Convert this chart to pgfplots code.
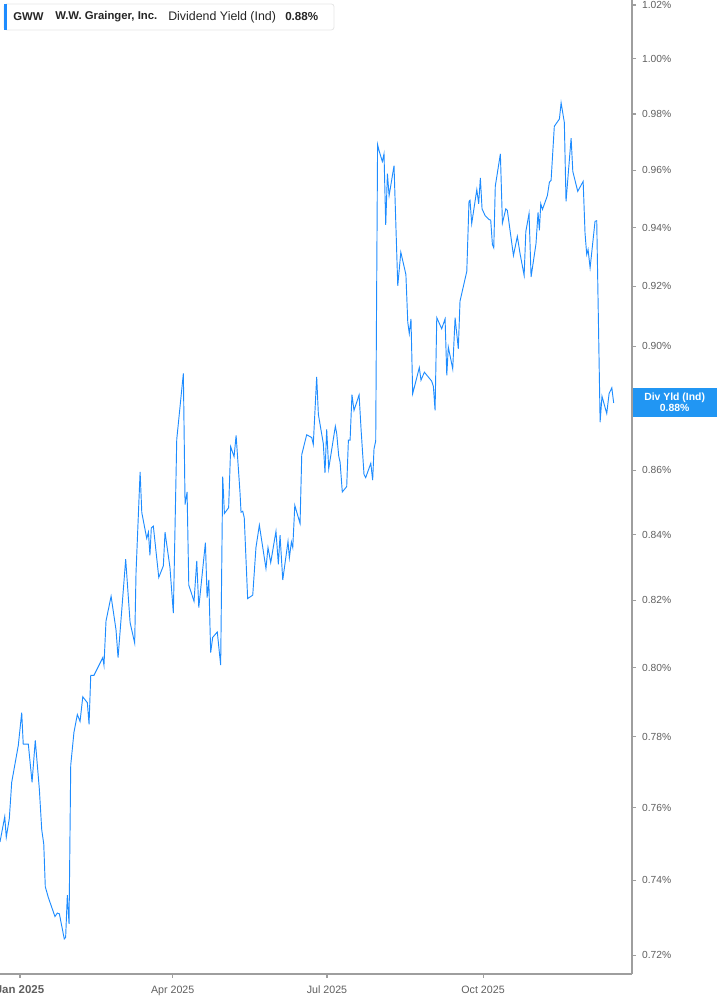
\documentclass[border=0pt]{standalone}
\usepackage{pgfplots}
\pgfplotsset{compat=1.18}
\usepackage{fontspec}
\setmainfont{Liberation Sans}

\definecolor{lineblue}{HTML}{1E8CFF}
\definecolor{badgeblue}{HTML}{2196F3}
\definecolor{axisgray}{HTML}{9E9E9E}
\definecolor{labelgray}{HTML}{5F5F5F}
\definecolor{boxgray}{HTML}{E6E6E6}

\begin{document}
\begin{tikzpicture}
\begin{axis}[
  scale only axis,
  width=474pt, height=730.5pt,
  at={(0,0)}, anchor=south west,
  xmin=-11.8, xmax=360.8,
  ymode=log, ymin=0.7150, ymax=1.0219,
  axis x line*=bottom, axis y line*=right,
  axis line style={axisgray, line width=1.1pt},
  tick style={axisgray, line width=0.8pt},
  tick align=outside,
  major tick length=3pt,
  xtick={0,90,181,273},
  xticklabels={\textbf{\fontsize{8.6}{9}\selectfont Jan 2025},Apr 2025,Jul 2025,Oct 2025},
  xticklabel style={font=\fontsize{8}{9}\selectfont, text=labelgray, yshift=-2.5pt},
  ytick={0.72,0.74,0.76,0.78,0.80,0.82,0.84,0.86,0.88,0.90,0.92,0.94,0.96,0.98,1.00,1.02},
  yticklabels={0.72\%,0.74\%,0.76\%,0.78\%,0.80\%,0.82\%,0.84\%,0.86\%,0.88\%,0.90\%,0.92\%,0.94\%,0.96\%,0.98\%,1.00\%,1.02\%},
  yticklabel style={font=\fontsize{7.7}{9}\selectfont, text=labelgray, xshift=1pt},
  minor tick num=0,
  log basis y=10,
  /pgf/number format/assume math mode=true,
  clip=false,
]
\addplot[lineblue, line width=0.7pt] coordinates {
(-11.8,0.7506) (-9.0,0.7575) (-8.1,0.7518) (-6.3,0.7570) (-4.9,0.7671) (-1.0,0.7776)
(1.0,0.7870) (1.9,0.7779) (4.9,0.7779) (7.1,0.7672) (9.0,0.7790) (11.4,0.7652)
(12.8,0.7540) (14.0,0.7499) (14.9,0.7383) (16.7,0.7354) (20.6,0.7303) (22.0,0.7312)
(23.2,0.7310) (26.1,0.7243) (26.9,0.7247) (27.9,0.7360) (28.9,0.7283) (29.9,0.7719)
(31.8,0.7814) (33.8,0.7865) (35.4,0.7845) (37.0,0.7916) (39.7,0.7899) (40.7,0.7836)
(41.7,0.7978) (43.6,0.7978) (48.8,0.8029) (49.5,0.8007) (50.7,0.8138) (53.7,0.8212)
(56.6,0.8111) (57.8,0.8029) (60.1,0.8178) (62.3,0.8324) (64.9,0.8133) (67.6,0.8072)
(68.4,0.8284) (70.8,0.8595) (71.8,0.8468) (74.7,0.8388) (75.7,0.8407) (76.6,0.8336)
(77.4,0.8420) (78.6,0.8426) (81.8,0.8269) (84.5,0.8304) (85.5,0.8407) (88.4,0.8299)
(90.4,0.8161) (92.4,0.8698) (96.3,0.8911) (97.3,0.8493) (98.5,0.8532) (99.5,0.8245)
(102.6,0.8197) (104.2,0.8319) (105.4,0.8178) (109.3,0.8375) (110.3,0.8208) (111.3,0.8261)
(112.4,0.8044) (113.6,0.8089) (116.3,0.8105) (118.3,0.8007) (119.5,0.8580) (120.5,0.8465)
(123.0,0.8483) (124.2,0.8675) (126.2,0.8643) (127.4,0.8711) (129.7,0.8530) (130.3,0.8469)
(131.3,0.8472) (132.2,0.8452) (134.2,0.8205) (137.2,0.8215) (139.1,0.8360) (141.1,0.8429)
(145.0,0.8296) (146.2,0.8360) (147.8,0.8314) (150.9,0.8410) (152.3,0.8309) (153.3,0.8398)
(154.9,0.8261) (158.0,0.8379) (158.8,0.8329) (160.0,0.8377) (160.8,0.8360) (162.0,0.8490)
(165.1,0.8434) (166.1,0.8650) (169.0,0.8713) (172.0,0.8704) (172.9,0.8682) (174.9,0.8900)
(175.9,0.8778) (178.8,0.8685) (179.8,0.8592) (180.8,0.8730) (182.0,0.8605) (185.9,0.8740)
(186.7,0.8717) (187.9,0.8645) (188.7,0.8626) (190.0,0.8532) (192.6,0.8549) (193.6,0.8696)
(194.6,0.8696) (195.7,0.8842) (196.9,0.8791) (199.9,0.8841) (201.1,0.8728) (202.8,0.8587)
(203.8,0.8577) (206.8,0.8622) (207.9,0.8569) (208.7,0.8668) (209.7,0.8693) (210.8,0.9691)
(211.8,0.9667) (213.6,0.9631) (214.6,0.9658) (215.6,0.9410) (216.6,0.9588) (217.6,0.9511)
(220.5,0.9616) (222.7,0.9202) (224.5,0.9316) (227.5,0.9240) (228.6,0.9080) (229.5,0.9042)
(230.5,0.9091) (231.5,0.8845) (235.4,0.8930) (236.4,0.8889) (238.4,0.8915) (242.7,0.8886)
(243.7,0.8869) (244.7,0.8791) (245.7,0.9095) (248.6,0.9058) (250.6,0.9091) (251.6,0.8905)
(252.5,0.8998) (255.1,0.8926) (256.5,0.9095) (258.4,0.8992) (259.4,0.9150) (263.4,0.9251)
(264.7,0.9491) (265.3,0.9495) (266.3,0.9414) (269.3,0.9532) (270.4,0.9483) (271.4,0.9573)
(272.4,0.9465) (274.2,0.9442) (276.5,0.9428) (277.5,0.9426) (278.5,0.9342) (279.3,0.9331)
(280.2,0.9544) (283.2,0.9658) (284.4,0.9416) (286.4,0.9465) (287.3,0.9460) (290.9,0.9305)
(293.2,0.9370) (294.8,0.9311) (297.2,0.9237) (298.2,0.9387) (300.1,0.9449) (301.3,0.9232)
(304.2,0.9345) (305.4,0.9453) (306.2,0.9391) (307.0,0.9483) (308.0,0.9463) (310.9,0.9511)
(312.1,0.9558) (313.1,0.9565) (315.0,0.9756) (318.0,0.9782) (319.0,0.9840) (320.9,0.9770)
(321.9,0.9491) (324.9,0.9714) (325.9,0.9596) (328.8,0.9526) (332.0,0.9561) (333.1,0.9382)
(334.1,0.9308) (334.9,0.9325) (336.1,0.9263) (339.0,0.9422) (340.0,0.9424) (342.0,0.8753)
(343.1,0.8837) (345.9,0.8781) (347.3,0.8846) (348.9,0.8864) (350.0,0.8815)
};
\end{axis}

% header box, top left
\draw[boxgray, line width=0.6pt, rounded corners=2pt, fill=white] (3pt,727.5pt) rectangle (250.5pt,708pt);
\fill[lineblue] (3pt,727.5pt) rectangle (5.2pt,708pt);
\begin{scope}[every node/.style={anchor=west, inner sep=0pt, text=black!85}]
\node[font=\bfseries\fontsize{8.5}{9}\selectfont] at (9.75pt,717.75pt) {GWW};
\node[font=\bfseries\fontsize{8.5}{9}\selectfont] at (41.25pt,717.75pt) {W.W. Grainger, Inc.};
\node[font=\fontsize{9.3}{10}\selectfont] at (126pt,717.75pt) {Dividend Yield (Ind)};
\node[font=\bfseries\fontsize{8.7}{9}\selectfont] at (213.75pt,717.75pt) {0.88\%};
\end{scope}

% last value badge
\fill[badgeblue] (474.6pt,439.5pt) rectangle (537.75pt,417.75pt);
\node[text=white, font=\bfseries\fontsize{7.8}{8.6}\selectfont, align=center, inner sep=0pt]
  at (506pt,428.6pt) {Div Yld (Ind)\\0.88\%};

\pgfresetboundingbox
\path[use as bounding box] (0pt,-23.25pt) rectangle (537.75pt,730.5pt);
\end{tikzpicture}
\end{document}
